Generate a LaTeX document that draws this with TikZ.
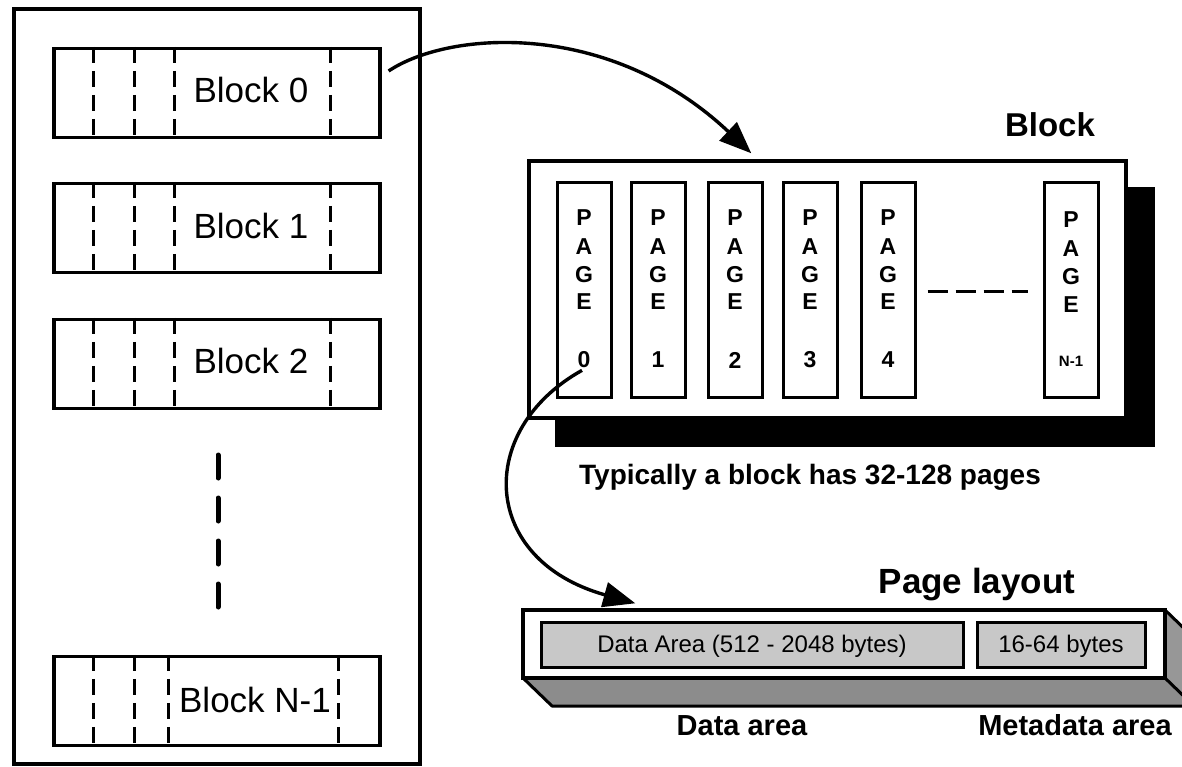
\documentclass[tikz,border=0pt]{standalone}
\usepackage{fontspec}
\setmainfont{Liberation Sans}
\usetikzlibrary{arrows.meta,calc}
\definecolor{lightfill}{RGB}{200,200,200}
\definecolor{darkfill}{RGB}{140,140,140}
\begin{document}
\begin{tikzpicture}[x=1pt,y=-1pt,
  outer/.style={draw, line width=3.4pt, inner sep=0},
  blk/.style={draw, line width=3.2pt, minimum width=326pt, minimum height=89pt, inner sep=0},
  sepline/.style={line width=2.6pt, dash pattern=on 16pt off 8pt},
  blabel/.style={anchor=base, font=\fontsize{35}{42}\selectfont, inner sep=0},
  pg/.style={draw, line width=3pt, minimum width=54pt, minimum height=214pt, inner sep=0},
  pl/.style={font=\bfseries\fontsize{23}{28}\selectfont, inner sep=0},
  title/.style={anchor=base, font=\bfseries\fontsize{33}{40}\selectfont, inner sep=0},
  sublabel/.style={anchor=base, font=\bfseries\fontsize{29}{35}\selectfont, inner sep=0},
  areabox/.style={draw, fill=lightfill, line width=3pt, minimum height=45pt, inner sep=0},
  areatext/.style={anchor=base, font=\fontsize{24}{29}\selectfont, inner sep=0},
  conn/.style={line width=3.4pt, -{Triangle[length=32pt,width=25pt]}},
]
\useasboundingbox (0,0) rectangle (1182,767);

% ---------- left: device with blocks ----------
\node[outer, minimum width=406pt, minimum height=755pt] (frame) at (217,386.5) {};

\node[blk] (b0) at (217,93) {};
\node[blk] (b1) at (217,228) {};
\node[blk] (b2) at (217,364) {};
\node[blk] (bn) at (217,701) {};

\foreach \b in {b0,b1,b2}{
  \foreach \dx in {41,82,122,278}{
    \draw[sepline] ($(\b.north west)+(\dx,0)$) -- ($(\b.south west)+(\dx,0)$);
  }
}
\foreach \dx in {41,82,116,286}{
  \draw[sepline] ($(bn.north west)+(\dx,0)$) -- ($(bn.south west)+(\dx,0)$);
}

\node[blabel] (t0) at (251,103) {Block 0};
\node[blabel] (t1) at (251,239) {Block 1};
\node[blabel] (t2) at (251,373) {Block 2};
\node[blabel] (tn) at (255,712) {Block N-1};

\coordinate (vd1) at (218,455);
\coordinate (vd2) at (218,612);
\draw[line width=5pt, line cap=round, dash pattern=on 23pt off 20pt] (vd1) -- (vd2);

% ---------- right: block with pages ----------
\node[fill=black, minimum width=600pt, minimum height=260pt, inner sep=0] (shadow) at (855,317) {};
\node[draw, fill=white, line width=3.4pt, minimum width=597pt, minimum height=257pt, inner sep=0] (bigbox) at (827.5,289.5) {};
\node[title] (blocktitle) at (1050,137) {Block};

\foreach \i/\x/\n in {0/584/0,1/658/1,2/735/2,3/810/3,4/888/4}{
  \node[pg] (p\i) at (\x,290) {};
  \node[pl] (p\i P) at (\x,218) {P};
  \node[pl] (p\i A) at (\x,247) {A};
  \node[pl] (p\i G) at (\x,275) {G};
  \node[pl] (p\i E) at (\x,302) {E};
  \node[pl] (p\i n) at (\x,360) {\n};
}
\node[pg] (pN) at (1071,290) {};
\node[pl] (pNP) at (1071,220) {P};
\node[pl] (pNA) at (1071,249) {A};
\node[pl] (pNG) at (1071,277) {G};
\node[pl] (pNE) at (1071,305) {E};
\node[font=\bfseries\fontsize{15}{18}\selectfont, inner sep=0] (pNn) at (1071,361) {N-1};

\draw[line width=3pt, dash pattern=on 20pt off 8pt] ($(p4.east)+(11,1)$) -- ($(pN.west)+(-15,1)$);

\node[anchor=base, font=\bfseries\fontsize{28}{34}\selectfont, inner sep=0] (typ) at (810,484) {Typically a block has 32-128 pages};

% ---------- page layout ----------
\fill[darkfill] (523,678) -- (1165,678) -- (1194,706) -- (552,706) -- cycle;
\draw[line width=3pt, line join=round] (523,678) -- (552,706) -- (1194,706);
\fill[darkfill!90!white] (1165,610) -- (1194,638) -- (1194,706) -- (1165,678) -- cycle;
\draw[line width=3pt, line join=round] (1165,610) -- (1194,638) -- (1194,706) -- (1165,678);
\node[draw, fill=white, line width=3.4pt, minimum width=642pt, minimum height=68pt, inner sep=0] (front) at (844,644) {};
\node[areabox, minimum width=422pt] (data) at (752,644.5) {};
\node[areabox, minimum width=168pt] (meta) at (1061,644.5) {};
\node[areatext] (datat) at (752,652) {Data Area (512 - 2048 bytes)};
\node[areatext] (metat) at (1061,652) {16-64 bytes};

\node[anchor=base, font=\bfseries\fontsize{35}{42}\selectfont, inner sep=0] (pltitle) at (977,593) {Page layout};
\node[sublabel] (dal) at (742,735) {Data area};
\node[sublabel] (mal) at (1075,735) {Metadata area};

% ---------- connectors ----------
\draw[conn] ($(b0.east)+(7,-22)$) .. controls (450,30) and (610,20) .. ($(bigbox.north west)+(224,-6)$);
\draw[conn] ($(p0n.south)+(-2,2)$) .. controls (475,430) and (480,560) .. ($(front.north west)+(114,-5)$);
\end{tikzpicture}
\end{document}
